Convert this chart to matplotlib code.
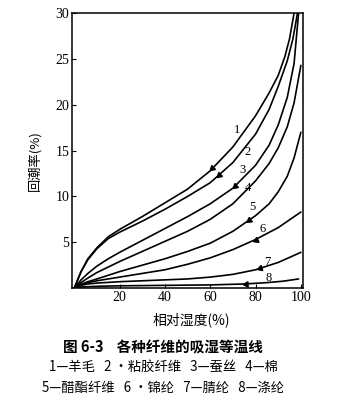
import numpy as np
import matplotlib
matplotlib.use("Agg")
import matplotlib.pyplot as plt

plt.rcParams['font.family'] = ['Liberation Serif', 'Noto Sans CJK SC', 'DejaVu Sans']

# relative humidity (%) and regain (%)
rh1 = [0, 3, 6, 10, 15, 20, 30, 40, 50, 60, 70, 80, 86, 90, 93, 95, 97]
w1 = [0, 1.8, 3.2, 4.4, 5.6, 6.4, 7.8, 9.3, 10.8, 12.8, 15.4, 18.8, 21.3, 23.2, 25.3, 27.2, 30]
rh2 = [0, 3, 6, 10, 15, 20, 30, 40, 50, 60, 70, 80, 86, 90, 94, 96.5, 98.5]
w2 = [0, 1.8, 3.1, 4.3, 5.4, 6.1, 7.3, 8.6, 10.0, 11.5, 13.7, 16.8, 19.5, 22.0, 24.8, 27.2, 30]
rh3 = [0, 3, 6, 10, 15, 20, 30, 40, 50, 60, 70, 80, 86, 90, 94, 97, 99]
w3 = [0, 0.9, 1.6, 2.4, 3.2, 3.9, 5.2, 6.5, 7.8, 9.2, 10.9, 13.4, 15.6, 17.8, 20.8, 24.5, 30]
rh4 = [0, 3, 6, 10, 15, 20, 30, 40, 50, 60, 70, 80, 86, 90, 94, 97, 100]
w4 = [0, 0.6, 1.1, 1.7, 2.3, 2.9, 4.0, 5.1, 6.2, 7.5, 9.2, 11.7, 13.6, 15.3, 17.6, 20.2, 24.3]
rh5 = [0, 3, 6, 10, 15, 20, 30, 40, 50, 60, 70, 80, 86, 90, 94, 97, 100]
w5 = [0, 0.4, 0.7, 1.0, 1.4, 1.8, 2.5, 3.2, 4.0, 4.9, 6.2, 7.9, 9.2, 10.5, 12.2, 14.2, 17.0]
rh6 = [0, 3, 6, 10, 15, 20, 30, 40, 50, 60, 70, 80, 90, 100]
w6 = [0, 0.4, 0.6, 0.8, 1.0, 1.2, 1.6, 2.0, 2.6, 3.3, 4.2, 5.3, 6.6, 8.3]
rh7 = [0, 3, 6, 10, 20, 30, 40, 50, 60, 70, 80, 90, 100]
w7 = [0, 0.3, 0.45, 0.55, 0.7, 0.8, 0.9, 1.0, 1.2, 1.5, 2.0, 2.8, 3.9]
rh8 = [0, 3, 10, 20, 40, 60, 75, 85, 92, 99]
w8 = [0, 0.12, 0.2, 0.25, 0.3, 0.35, 0.45, 0.6, 0.75, 1.0]

series = [(rh1, w1), (rh2, w2), (rh3, w3), (rh4, w4),
          (rh5, w5), (rh6, w6), (rh7, w7), (rh8, w8)]
curve_labels = ['1', '2', '3', '4', '5', '6', '7', '8']
label_pos = [(72, 17.2), (76.4, 14.8), (74.2, 12.9), (76.4, 10.9),
             (78.7, 8.8), (83.1, 6.5), (85.3, 2.9), (85.8, 1.1)]
arrow_at = [61, 64, 71, None, 77, 80, 82, 76]

xticks = [20, 40, 60, 80, 100]
yticks = [5, 10, 15, 20, 25, 30]

fig = plt.figure(figsize=(3.6, 4.11), dpi=100)
ax = fig.add_axes([0.2, 0.299, 0.642, 0.669])
ax.set_xlim(-1, 101)
ax.set_ylim(0, 30)

for (x, y) in series:
    ax.plot(x, y, color='black', lw=1.2, solid_capstyle='round')

fig.canvas.draw()
for (x, y), xa in zip(series, arrow_at):
    if xa is None:
        continue
    ya = np.interp(xa, x, y)
    yb = np.interp(xa - 2, x, y)
    p1 = ax.transData.transform((xa, ya))
    p2 = ax.transData.transform((xa - 2, yb))
    ang = np.degrees(np.arctan2(p2[1] - p1[1], p2[0] - p1[0]))
    ax.plot([xa], [ya], marker=(3, 0, ang - 90), markersize=4.5,
            color='black', zorder=5)

for lab, (lx, ly) in zip(curve_labels, label_pos):
    ax.text(lx, ly, lab, fontsize=9, ha='center', va='center')

ax.set_xticks(xticks)
ax.set_yticks(yticks)
ax.tick_params(direction='in', length=3, width=0.8, labelsize=10, pad=2)
for s in ax.spines.values():
    s.set_linewidth(1.1)

cjk = ['Noto Sans CJK SC', 'DejaVu Sans']
fig.text(35 / 360, 1 - 161 / 411, '回潮率(%)', rotation=90, ha='center',
         va='center', fontsize=9.5, family=cjk)
fig.text(191 / 360, 1 - 320 / 411, '相对湿度(%)', ha='center', va='center',
         fontsize=10, family=cjk)
fig.text(163 / 360, 1 - 348 / 411, '图 6-3    各种纤维的吸湿等温线', ha='center',
         va='center', fontsize=10.5, fontweight='bold', family=cjk)
fig.text(163 / 360, 1 - 368 / 411, '1—羊毛   2 ·粘胶纤维   3—蚕丝   4—棉',
         ha='center', va='center', fontsize=9.6, family=cjk)
fig.text(163 / 360, 1 - 388 / 411, '5—醋酯纤维   6 ·锦纶   7—腈纶   8—涤纶',
         ha='center', va='center', fontsize=9.6, family=cjk)

fig.savefig('out.png', dpi=100)
